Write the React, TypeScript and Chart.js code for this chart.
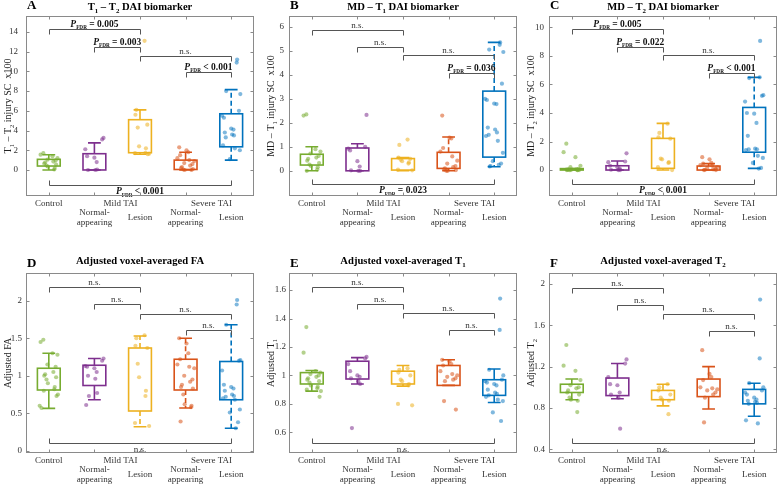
import { useEffect, useRef } from 'react';
import { Chart, registerables } from 'chart.js';

Chart.register(...registerables);

// ---------- shared categories ----------
const GROUP_POS = [1, 2, 3, 4, 5];
const CATEGORY_LABELS: (string | string[])[] = ['Control', ['Normal-', 'appearing'], 'Lesion', ['Normal-', 'appearing'], 'Lesion'];
const SUPER_LABELS = ['Mild TAI', 'Severe TAI'];
const SUPER_POS = [2.57, 4.57];
const GROUP_COLORS = ['#77AC30', '#7E2F8E', '#EDB120', '#D95319', '#0072BD'];
const POINT_COLORS = ['rgba(119,172,48,0.55)', 'rgba(126,47,142,0.55)', 'rgba(237,177,32,0.55)', 'rgba(217,83,25,0.55)', 'rgba(0,114,189,0.5)'];
const JITTER = [-0.12, 0.15, -0.05, 0.2, 0.05, -0.18, 0.1, -0.02, 0.17, -0.14, 0.08, -0.08, 0.13, -0.2, 0.02, 0.19, -0.1, 0.12, -0.16, 0.06, -0.03, 0.16, -0.11, 0.0];

// ---------- Panel A: T1 – T2 DAI biomarker ----------
const A_POINTS = [
  [1.7, 1.55, 1.4, 1.2, 1.05, 0.95, 0.85, 0.75, 0.65, 0.55, 0.45, 0.35, 0.2, 0.05],
  [3.25, 3.1, 2.1, 1.4, 1.25, 0.8, 0.0, 0.0, 0.05],
  [13.1, 6.1, 5.6, 4.6, 4.3, 2.4, 2.2, 1.75, 1.7, 1.65, 1.6],
  [2.3, 2.0, 1.8, 1.5, 1.2, 1.0, 0.9, 0.7, 0.6, 0.45, 0.3, 0.2, 0.1, 0.05, 0.0, 0.0],
  [11.2, 10.9, 8.0, 7.7, 6.0, 5.5, 5.3, 4.2, 4.1, 3.8, 3.6, 3.5, 3.3, 2.5, 2.2, 2.0, 1.1],
];
const A_Q1 = [0.4, 0.0, 1.75, 0.05, 2.35];
const A_Q3 = [1.08, 1.65, 5.1, 1.0, 5.7];
const A_WLO = [0.0, 0.0, 1.6, 0.0, 1.0];
const A_WHI = [1.55, 2.75, 6.1, 1.8, 8.15];
const A_DASH = [false, false, false, false, true];
const A_BR_FROM = [1, 2, 3, 4, 1];
const A_BR_TO = [3, 3, 5, 5, 5];
const A_BR_Y = [14.3, 12.5, 11.6, 9.9, -1.53];
const A_BR_LABEL = ['*P*_{FDR} = 0.005', '*P*_{FDR} = 0.003', 'n.s.', '*P*_{FDR} < 0.001', '*P*_{FDR} < 0.001'];
const A_Y_TICKS = [0, 2, 4, 6, 8, 10, 12, 14];

// ---------- Panel B: MD – T1 DAI biomarker ----------
const B_POINTS = [
  [2.35, 2.3, 0.9, 0.8, 0.72, 0.62, 0.55, 0.5, 0.42, 0.32, 0.26, 0.2, 0.15, 0.05, 0.0],
  [2.33, 1.0, 0.92, 0.85, 0.4, 0.18, 0.02, 0.0, 0.0],
  [1.3, 1.08, 0.55, 0.5, 0.46, 0.4, 0.35, 0.3, 0.05, 0.02],
  [2.3, 1.38, 1.35, 0.95, 0.8, 0.6, 0.42, 0.3, 0.2, 0.15, 0.1, 0.06, 0.03, 0.0, 0.0],
  [5.35, 5.25, 5.05, 4.95, 3.63, 3.0, 2.95, 2.8, 2.78, 1.8, 1.72, 1.6, 1.5, 1.45, 1.25, 0.75, 0.4, 0.3, 0.25, 0.2, 0.18],
];
const B_Q1 = [0.24, 0.0, 0.03, 0.1, 0.57];
const B_Q3 = [0.69, 0.95, 0.51, 0.77, 3.32];
const B_WLO = [0.0, 0.0, 0.0, 0.0, 0.17];
const B_WHI = [1.0, 1.13, 0.55, 1.41, 5.35];
const B_DASH = [false, false, false, true, true];
const B_BR_FROM = [1, 2, 3, 4, 1];
const B_BR_TO = [3, 3, 5, 5, 5];
const B_BR_Y = [5.86, 5.15, 4.83, 4.07, -0.57];
const B_BR_LABEL = ['n.s.', 'n.s.', 'n.s.', '*P*_{FDR} = 0.036', '*P*_{FDR} = 0.023'];
const B_Y_TICKS = [0, 1, 2, 3, 4, 5, 6];

// ---------- Panel C: MD – T2 DAI biomarker ----------
const C_POINTS = [
  [1.85, 1.25, 0.9, 0.3, 0.2, 0.08, 0.05, 0.03, 0.02, 0.0, 0.0, 0.0, 0.0, 0.0, 0.0],
  [1.17, 0.6, 0.55, 0.3, 0.2, 0.1, 0.02, 0.0, 0.0],
  [3.25, 2.6, 2.3, 2.2, 0.8, 0.75, 0.55, 0.5, 0.2, 0.0],
  [0.9, 0.75, 0.5, 0.45, 0.35, 0.3, 0.2, 0.15, 0.1, 0.05, 0.02, 0.0, 0.0],
  [9.05, 6.5, 6.45, 5.25, 5.2, 4.8, 4.0, 3.95, 3.3, 2.4, 1.5, 1.45, 1.45, 1.4, 1.0, 0.85, 0.5, 0.15, 0.1],
];
const C_Q1 = [0.0, 0.0, 0.12, 0.0, 1.25];
const C_Q3 = [0.1, 0.3, 2.22, 0.28, 4.39];
const C_WLO = [0.0, 0.0, 0.0, 0.0, 0.12];
const C_WHI = [0.1, 0.63, 3.27, 0.45, 6.5];
const C_DASH = [false, false, false, false, true];
const C_BR_FROM = [1, 2, 3, 4, 1];
const C_BR_TO = [3, 3, 5, 5, 5];
const C_BR_Y = [9.86, 8.64, 8.1, 6.82, -1.0];
const C_BR_LABEL = ['*P*_{FDR} = 0.005', '*P*_{FDR} = 0.022', 'n.s.', '*P*_{FDR} < 0.001', '*P*_{FDR} < 0.001'];
const C_Y_TICKS = [0, 2, 4, 6, 8, 10];

// ---------- Panel D: Adjusted voxel-averaged FA ----------
const D_POINTS = [
  [1.48, 1.45, 1.3, 1.28, 1.15, 1.12, 1.05, 1.02, 1.0, 0.98, 0.95, 0.9, 0.85, 0.82, 0.8, 0.75, 0.73, 0.6, 0.57],
  [1.23, 1.2, 1.13, 1.12, 1.1, 1.05, 1.0, 0.96, 0.77, 0.73, 0.61],
  [1.54, 1.5, 1.4, 1.37, 1.16, 0.98, 0.8, 0.73, 0.37, 0.33],
  [1.5, 1.43, 1.3, 1.22, 1.15, 1.12, 1.1, 1.0, 0.95, 0.92, 0.88, 0.85, 0.83, 0.75, 0.62, 0.6, 0.58, 0.39],
  [2.01, 1.95, 1.68, 1.21, 1.2, 1.07, 0.88, 0.85, 0.83, 0.8, 0.75, 0.73, 0.72, 0.7, 0.68, 0.55, 0.51, 0.38, 0.3],
];
const D_Q1 = [0.81, 0.87, 0.53, 0.81, 0.68];
const D_Q3 = [1.1, 1.14, 1.37, 1.22, 1.19];
const D_WLO = [0.565, 0.68, 0.32, 0.57, 0.3];
const D_WHI = [1.3, 1.23, 1.53, 1.5, 1.68];
const D_DASH = [false, false, true, true, true];
const D_BR_FROM = [1, 2, 3, 4, 1];
const D_BR_TO = [3, 3, 5, 5, 5];
const D_BR_Y = [2.18, 1.95, 1.83, 1.61, 0.107];
const D_BR_LABEL = ['n.s.', 'n.s.', 'n.s.', 'n.s.', 'n.s.'];
const D_Y_TICKS = [0, 0.5, 1, 1.5, 2];

// ---------- Panel E: Adjusted voxel-averaged T1 ----------
const E_POINTS = [
  [1.34, 1.16, 1.03, 1.02, 1.01, 1.0, 0.99, 0.98, 0.97, 0.96, 0.95, 0.93, 0.92, 0.91, 0.9, 0.89, 0.85],
  [1.13, 1.12, 1.08, 1.03, 1.0, 0.99, 0.98, 0.96, 0.94, 0.63],
  [1.05, 1.04, 1.02, 1.0, 0.97, 0.96, 0.94, 0.93, 0.8, 0.79],
  [1.11, 1.1, 1.08, 1.07, 1.03, 1.01, 1.0, 0.99, 0.98, 0.97, 0.96, 0.82, 0.76],
  [1.54, 1.32, 1.04, 1.0, 0.97, 0.96, 0.95, 0.94, 0.93, 0.9, 0.88, 0.87, 0.86, 0.85, 0.83, 0.82, 0.74, 0.68],
];
const E_Q1 = [0.94, 0.975, 0.94, 0.93, 0.86];
const E_Q3 = [1.02, 1.1, 1.03, 1.07, 0.97];
const E_WLO = [0.89, 0.94, 0.925, 0.93, 0.81];
const E_WHI = [1.035, 1.125, 1.07, 1.11, 1.045];
const E_DASH = [false, false, false, false, false];
const E_BR_FROM = [1, 2, 3, 4, 1];
const E_BR_TO = [3, 3, 5, 5, 5];
const E_BR_Y = [1.62, 1.5, 1.44, 1.32, 0.527];
const E_BR_LABEL = ['n.s.', 'n.s.', 'n.s.', 'n.s.', 'n.s.'];
const E_Y_TICKS = [0.6, 0.8, 1, 1.2, 1.4, 1.6];

// ---------- Panel F: Adjusted voxel-averaged T2 ----------
const F_POINTS = [
  [1.41, 1.21, 1.16, 1.07, 1.02, 1.0, 0.99, 0.97, 0.95, 0.93, 0.9, 0.88, 0.87, 0.76],
  [1.27, 1.23, 1.1, 1.03, 1.02, 0.95, 0.93, 0.9, 0.6],
  [1.03, 1.0, 0.97, 0.93, 0.9, 0.88, 0.87, 0.74],
  [1.36, 1.13, 1.1, 1.07, 1.0, 0.99, 0.98, 0.97, 0.95, 0.93, 0.9, 0.66],
  [1.85, 1.28, 1.04, 1.0, 0.97, 0.95, 0.93, 0.9, 0.88, 0.87, 0.86, 0.85, 0.84, 0.68, 0.65],
];
const F_Q1 = [0.95, 0.92, 0.88, 0.91, 0.84];
const F_Q3 = [1.03, 1.09, 0.97, 1.08, 0.98];
const F_WLO = [0.88, 0.89, 0.82, 0.79, 0.72];
const F_WHI = [1.08, 1.23, 1.03, 1.2, 1.04];
const F_DASH = [false, false, false, false, false];
const F_BR_FROM = [1, 2, 3, 4, 1];
const F_BR_TO = [3, 3, 5, 5, 5];
const F_BR_Y = [1.958, 1.797, 1.71, 1.55, 0.464];
const F_BR_LABEL = ['n.s.', 'n.s.', 'n.s.', 'n.s.', 'n.s.'];
const F_Y_TICKS = [0.4, 0.8, 1.2, 1.6, 2];

const SERIF = '"Liberation Serif", "Times New Roman", serif';

type Seg = { t: string; sub: boolean; italic: boolean };
function parseRich(s: string): Seg[] {
  const out: Seg[] = [];
  let buf = '';
  let italic = false;
  let i = 0;
  const flush = () => {
    if (buf) { out.push({ t: buf, sub: false, italic }); buf = ''; }
  };
  while (i < s.length) {
    const c = s[i];
    if (c === '*') { flush(); italic = !italic; i++; continue; }
    if (c === '_') {
      flush();
      if (s[i + 1] === '{') {
        const j = s.indexOf('}', i);
        out.push({ t: s.slice(i + 2, j), sub: true, italic });
        i = j + 1;
      } else {
        out.push({ t: s[i + 1], sub: true, italic });
        i += 2;
      }
      continue;
    }
    buf += c;
    i++;
  }
  flush();
  return out;
}
function fontStr(size: number, bold: boolean, italic: boolean) {
  return `${italic ? 'italic ' : ''}${bold ? 'bold ' : ''}${size}px ${SERIF}`;
}
function drawRich(ctx: CanvasRenderingContext2D, s: string, x: number, y: number, size: number, bold: boolean, align: string, color: string, subScale = 0.65) {
  const segs = parseRich(s);
  const widths = segs.map((sg) => {
    ctx.font = fontStr(sg.sub ? size * subScale : size, bold, sg.italic);
    return ctx.measureText(sg.t).width;
  });
  const total = widths.reduce((a, b) => a + b, 0);
  let cx = align === 'center' ? x - total / 2 : align === 'right' ? x - total : x;
  ctx.fillStyle = color;
  ctx.textAlign = 'left';
  ctx.textBaseline = 'alphabetic';
  segs.forEach((sg, k) => {
    ctx.font = fontStr(sg.sub ? size * subScale : size, bold, sg.italic);
    ctx.fillText(sg.t, cx, y + (sg.sub ? size * 0.3 : 0));
    cx += widths[k];
  });
}

type Panel = {
  letter: string; title: string; yTitle: string;
  left: number; top: number; width: number; height: number; padTop: number; padBottom: number;
  titleOff: number; letterOff: number; tickPad: number;
  points: number[][]; q1: number[]; q3: number[]; wlo: number[]; whi: number[]; dash: boolean[];
  brFrom: number[]; brTo: number[]; brY: number[]; brLabel: string[];
  yTicks: number[]; yMin: number; yMax: number;
};

const TOP = { top: 0, height: 240, padTop: 16, padBottom: 44, titleOff: 6.5, letterOff: 7.5 };
const BOT = { top: 240, height: 245, padTop: 33, padBottom: 32, titleOff: 9, letterOff: 6 };

const PANELS: Panel[] = [
  { letter: 'A', title: 'T_1 – T_2 DAI biomarker', yTitle: 'T_1 – T_2 injury SC  x100', left: 0, width: 258, ...TOP, tickPad: 8,
    points: A_POINTS, q1: A_Q1, q3: A_Q3, wlo: A_WLO, whi: A_WHI, dash: A_DASH,
    brFrom: A_BR_FROM, brTo: A_BR_TO, brY: A_BR_Y, brLabel: A_BR_LABEL, yTicks: A_Y_TICKS, yMin: -2.64, yMax: 15.62 },
  { letter: 'B', title: 'MD – T_1 DAI biomarker', yTitle: 'MD – T_1 injury SC  x100', left: 263, width: 258, ...TOP, tickPad: 5,
    points: B_POINTS, q1: B_Q1, q3: B_Q3, wlo: B_WLO, whi: B_WHI, dash: B_DASH,
    brFrom: B_BR_FROM, brTo: B_BR_TO, brY: B_BR_Y, brLabel: B_BR_LABEL, yTicks: B_Y_TICKS, yMin: -1.05, yMax: 6.45 },
  { letter: 'C', title: 'MD – T_2 DAI biomarker', yTitle: 'MD – T_2 injury SC  x100', left: 523, width: 258, ...TOP, tickPad: 5,
    points: C_POINTS, q1: C_Q1, q3: C_Q3, wlo: C_WLO, whi: C_WHI, dash: C_DASH,
    brFrom: C_BR_FROM, brTo: C_BR_TO, brY: C_BR_Y, brLabel: C_BR_LABEL, yTicks: C_Y_TICKS, yMin: -1.82, yMax: 10.8 },
  { letter: 'D', title: 'Adjusted voxel-averaged FA', yTitle: 'Adjusted FA', left: 0, width: 258, ...BOT, tickPad: 4,
    points: D_POINTS, q1: D_Q1, q3: D_Q3, wlo: D_WLO, whi: D_WHI, dash: D_DASH,
    brFrom: D_BR_FROM, brTo: D_BR_TO, brY: D_BR_Y, brLabel: D_BR_LABEL, yTicks: D_Y_TICKS, yMin: -0.03, yMax: 2.37 },
  { letter: 'E', title: 'Adjusted voxel-averaged T_1', yTitle: 'Adjusted T_1', left: 263, width: 258, ...BOT, tickPad: 3,
    points: E_POINTS, q1: E_Q1, q3: E_Q3, wlo: E_WLO, whi: E_WHI, dash: E_DASH,
    brFrom: E_BR_FROM, brTo: E_BR_TO, brY: E_BR_Y, brLabel: E_BR_LABEL, yTicks: E_Y_TICKS, yMin: 0.455, yMax: 1.72 },
  { letter: 'F', title: 'Adjusted voxel-averaged T_2', yTitle: 'Adjusted T_2', left: 523, width: 258, ...BOT, tickPad: 4,
    points: F_POINTS, q1: F_Q1, q3: F_Q3, wlo: F_WLO, whi: F_WHI, dash: F_DASH,
    brFrom: F_BR_FROM, brTo: F_BR_TO, brY: F_BR_Y, brLabel: F_BR_LABEL, yTicks: F_Y_TICKS, yMin: 0.364, yMax: 2.107 },
];

const BOX_HALF = 0.25;
const CAP_HALF = 0.14;
const BR_TICK = 5;
const FRAME_COLOR = '#8a8a8a';
const BRACKET_COLOR = '#555555';

function panelPlugin(p: Panel) {
  return {
    id: 'panelDeco' + p.letter,
    beforeDatasetsDraw(chart: any) {
      const ctx: CanvasRenderingContext2D = chart.ctx;
      const xs = chart.scales.x;
      const ys = chart.scales.y;
      ctx.save();
      for (let g = 0; g < GROUP_POS.length; g++) {
        const cx = xs.getPixelForValue(GROUP_POS[g]);
        const hw = xs.getPixelForValue(GROUP_POS[g] + BOX_HALF) - cx;
        const cw = xs.getPixelForValue(GROUP_POS[g] + CAP_HALF) - cx;
        const yq1 = ys.getPixelForValue(p.q1[g]);
        const yq3 = ys.getPixelForValue(p.q3[g]);
        const ylo = ys.getPixelForValue(p.wlo[g]);
        const yhi = ys.getPixelForValue(p.whi[g]);
        ctx.strokeStyle = GROUP_COLORS[g];
        ctx.lineWidth = 1.6;
        ctx.setLineDash(p.dash[g] ? [5, 3] : []);
        ctx.beginPath();
        ctx.moveTo(cx, yq3); ctx.lineTo(cx, yhi);
        ctx.moveTo(cx, yq1); ctx.lineTo(cx, ylo);
        ctx.stroke();
        ctx.setLineDash([]);
        ctx.beginPath();
        ctx.moveTo(cx - cw, yhi); ctx.lineTo(cx + cw, yhi);
        ctx.moveTo(cx - cw, ylo); ctx.lineTo(cx + cw, ylo);
        ctx.stroke();
        ctx.strokeRect(cx - hw, yq3, 2 * hw, Math.max(yq1 - yq3, 1));
      }
      ctx.restore();
    },
    afterDatasetsDraw(chart: any) {
      const ctx: CanvasRenderingContext2D = chart.ctx;
      const a = chart.chartArea;
      const xs = chart.scales.x;
      const ys = chart.scales.y;
      ctx.save();
      ctx.strokeStyle = BRACKET_COLOR;
      ctx.lineWidth = 1;
      for (let k = 0; k < p.brY.length; k++) {
        const x1 = xs.getPixelForValue(p.brFrom[k]);
        const x2 = xs.getPixelForValue(p.brTo[k]);
        const y = Math.round(ys.getPixelForValue(p.brY[k])) + 0.5;
        const below = k === p.brY.length - 1;
        const dy = below ? -BR_TICK : BR_TICK;
        ctx.beginPath();
        ctx.moveTo(Math.round(x1) + 0.5, y + dy);
        ctx.lineTo(Math.round(x1) + 0.5, y);
        ctx.lineTo(Math.round(x2) + 0.5, y);
        ctx.lineTo(Math.round(x2) + 0.5, y + dy);
        ctx.stroke();
        const lab = p.brLabel[k];
        const isP = lab.indexOf('*P*') === 0;
        const ly = below ? y + 8.5 : y - 3;
        drawRich(ctx, lab, (x1 + x2) / 2, ly, isP ? 9.5 : 9, isP, 'center', isP ? '#111' : '#333', 0.55);
      }
      ctx.strokeStyle = FRAME_COLOR;
      ctx.lineWidth = 1;
      const L = Math.round(a.left) + 0.5, T = Math.round(a.top) + 0.5;
      const R = Math.round(a.right) - 0.5, B = Math.round(a.bottom) - 0.5;
      ctx.strokeRect(L, T, R - L, B - T);
      ctx.beginPath();
      p.yTicks.forEach((v) => {
        const y = Math.round(ys.getPixelForValue(v)) + 0.5;
        ctx.moveTo(L, y); ctx.lineTo(L + 3, y);
        ctx.moveTo(R, y); ctx.lineTo(R - 3, y);
      });
      GROUP_POS.forEach((v) => {
        const x = Math.round(xs.getPixelForValue(v)) + 0.5;
        ctx.moveTo(x, B); ctx.lineTo(x, B - 3);
        ctx.moveTo(x, T); ctx.lineTo(x, T + 3);
      });
      ctx.stroke();
      ctx.fillStyle = '#333';
      ctx.font = fontStr(9, false, false);
      ctx.textAlign = 'center';
      ctx.textBaseline = 'alphabetic';
      CATEGORY_LABELS.forEach((lab, g) => {
        const x = xs.getPixelForValue(GROUP_POS[g]);
        if (Array.isArray(lab)) {
          ctx.fillText(lab[0], x, a.bottom + 19);
          ctx.fillText(lab[1], x, a.bottom + 29);
        } else if (g === 0) {
          ctx.fillText(lab, x, a.bottom + 10);
        } else {
          ctx.fillText(lab, x, a.bottom + 24);
        }
      });
      SUPER_LABELS.forEach((lab, i) => {
        ctx.fillText(lab, xs.getPixelForValue(SUPER_POS[i]), a.bottom + 10);
      });
      ctx.save();
      ctx.translate(a.left - 19, (a.top + a.bottom) / 2);
      ctx.rotate(-Math.PI / 2);
      drawRich(ctx, p.yTitle, 0, 3.5, 10, false, 'center', '#222', 0.65);
      ctx.restore();
      drawRich(ctx, p.title, (a.left + a.right) / 2, a.top - p.titleOff, 10.6, true, 'center', '#000', 0.65);
      drawRich(ctx, p.letter, a.left + 1, a.top - p.letterOff, 13, true, 'left', '#000');
      ctx.restore();
    },
  };
}

function makeConfig(p: Panel): any {
  const datasets = p.points.map((vals, g) => ({
    type: 'scatter',
    data: vals.map((v, i) => ({ x: GROUP_POS[g] + JITTER[(i * 5 + g * 3) % JITTER.length], y: v })),
    backgroundColor: POINT_COLORS[g],
    pointBackgroundColor: POINT_COLORS[g],
    pointBorderWidth: 0,
    pointRadius: 2.1,
    clip: false,
  }));
  return {
    type: 'scatter',
    data: { datasets },
    options: {
      animation: false,
      responsive: false,
      maintainAspectRatio: false,
      layout: { padding: { left: 0, right: 4, top: p.padTop, bottom: p.padBottom } },
      plugins: { legend: { display: false }, tooltip: { enabled: false }, title: { display: false } },
      scales: {
        x: { type: 'linear', min: 0.5, max: 5.5, display: false },
        y: {
          type: 'linear',
          min: p.yMin,
          max: p.yMax,
          afterFit: (s: any) => { s.width = 26; },
          afterBuildTicks: (s: any) => { s.ticks = p.yTicks.map((v) => ({ value: v })); },
          grid: { display: false, drawTicks: false },
          border: { display: false },
          ticks: {
            padding: p.tickPad,
            color: '#333',
            font: { family: SERIF, size: 9 },
            callback: (v: any) => String(v),
          },
        },
      },
    },
    plugins: [panelPlugin(p)],
  };
}

function PanelChart({ p }: { p: Panel }) {
  const ref = useRef<HTMLCanvasElement>(null);
  useEffect(() => {
    const chart = new Chart(ref.current as HTMLCanvasElement, makeConfig(p));
    return () => chart.destroy();
  }, [p]);
  return (
    <canvas
      ref={ref}
      width={p.width}
      height={p.height}
      style={{ position: 'absolute', left: p.left, top: p.top, width: p.width, height: p.height }}
    />
  );
}

export default function App() {
  return (
    <div style={{ position: 'absolute', left: 0, top: 0, width: 780, height: 485, overflow: 'hidden', background: '#fff' }}>
      {PANELS.map((p) => (
        <PanelChart key={p.letter} p={p} />
      ))}
    </div>
  );
}
